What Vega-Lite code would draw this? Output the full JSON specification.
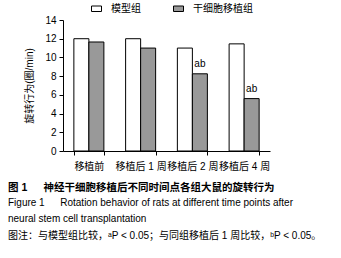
{
  "$schema": "https://vega.github.io/schema/vega-lite/v6.json",
  "autosize": "none",
  "width": 207,
  "height": 131,
  "padding": {"left": 63, "top": 20, "right": 71, "bottom": 107},
  "background": "white",
  "config": {
    "font": "Liberation Sans, Noto Sans CJK SC",
    "view": {"stroke": null},
    "axis": {"grid": false, "domainColor": "black", "tickColor": "black", "labelColor": "black", "titleColor": "black", "labelFont": "Liberation Sans, Noto Sans CJK SC", "titleFont": "Liberation Sans, Noto Sans CJK SC"}
  },
  "data": {
    "values": [
      {"time": "移植前", "group": "模型组", "value": 12.0, "label": ""},
      {"time": "移植前", "group": "干细胞移植组", "value": 11.65, "label": ""},
      {"time": "移植后 1 周", "group": "模型组", "value": 12.0, "label": ""},
      {"time": "移植后 1 周", "group": "干细胞移植组", "value": 11.0, "label": ""},
      {"time": "移植后 2 周", "group": "模型组", "value": 11.0, "label": ""},
      {"time": "移植后 2 周", "group": "干细胞移植组", "value": 8.25, "label": "ab"},
      {"time": "移植后 4 周", "group": "模型组", "value": 11.45, "label": ""},
      {"time": "移植后 4 周", "group": "干细胞移植组", "value": 5.6, "label": "ab"}
    ]
  },
  "title": {
    "text": "图 1 \u3000 神经干细胞移植后不同时间点各组大鼠的旋转行为",
    "subtitle": ["Figure 1 \u3000 Rotation behavior of rats at different time points after", "neural stem cell transplantation", "图注：与模型组比较，ᵃP < 0.05；与同组移植后 1 周比较，ᵇP < 0.05。"],
    "orient": "bottom",
    "anchor": "start",
    "frame": "group",
    "dx": -55,
    "offset": 12,
    "fontSize": 10.5,
    "fontWeight": "bold",
    "font": "Liberation Sans, Noto Sans CJK SC",
    "subtitleFont": "Liberation Sans, Noto Sans CJK SC",
    "subtitleFontSize": 10,
    "subtitleLineHeight": 16.5,
    "subtitlePadding": 4,
    "color": "black",
    "subtitleColor": "black"
  },
  "encoding": {
    "x": {
      "field": "time", "type": "nominal", "sort": null,
      "scale": {"paddingInner": 0.42, "paddingOuter": 0.21},
      "axis": {"title": null, "labelAngle": 0, "labelFontSize": 10, "tickBand": "extent", "tickSize": 4, "labelPadding": 6, "domainWidth": 1}
    },
    "xOffset": {"field": "group", "type": "nominal", "sort": ["模型组", "干细胞移植组"]},
    "y": {
      "field": "value", "type": "quantitative",
      "scale": {"domain": [0, 14], "nice": false},
      "axis": {"title": "旋转行为(圈/min)", "values": [0, 2, 4, 6, 8, 10, 12, 14], "labelFontSize": 10, "titleFontSize": 10, "titleFontWeight": "normal", "tickSize": 4, "labelPadding": 3, "titlePadding": 10}
    }
  },
  "layer": [
    {
      "mark": {"type": "bar", "stroke": "black", "strokeWidth": 1},
      "encoding": {
        "fill": {
          "field": "group", "type": "nominal",
          "scale": {"domain": ["模型组", "干细胞移植组"], "range": ["#ffffff", "#999999"]},
          "legend": {
            "title": null, "orient": "none", "direction": "horizontal",
            "legendX": 28, "legendY": -17,
            "symbolType": "M-1,-0.55H1V0.55H-1Z", "symbolSize": 100,
            "symbolStrokeColor": "black", "symbolStrokeWidth": 1,
            "labelFontSize": 10, "columnPadding": 30, "labelOffset": 9
          }
        }
      }
    },
    {
      "transform": [{"filter": "datum.label != ''"}],
      "mark": {"type": "text", "baseline": "bottom", "dy": -5, "fontSize": 10, "color": "black"},
      "encoding": {"text": {"field": "label"}}
    }
  ]
}
